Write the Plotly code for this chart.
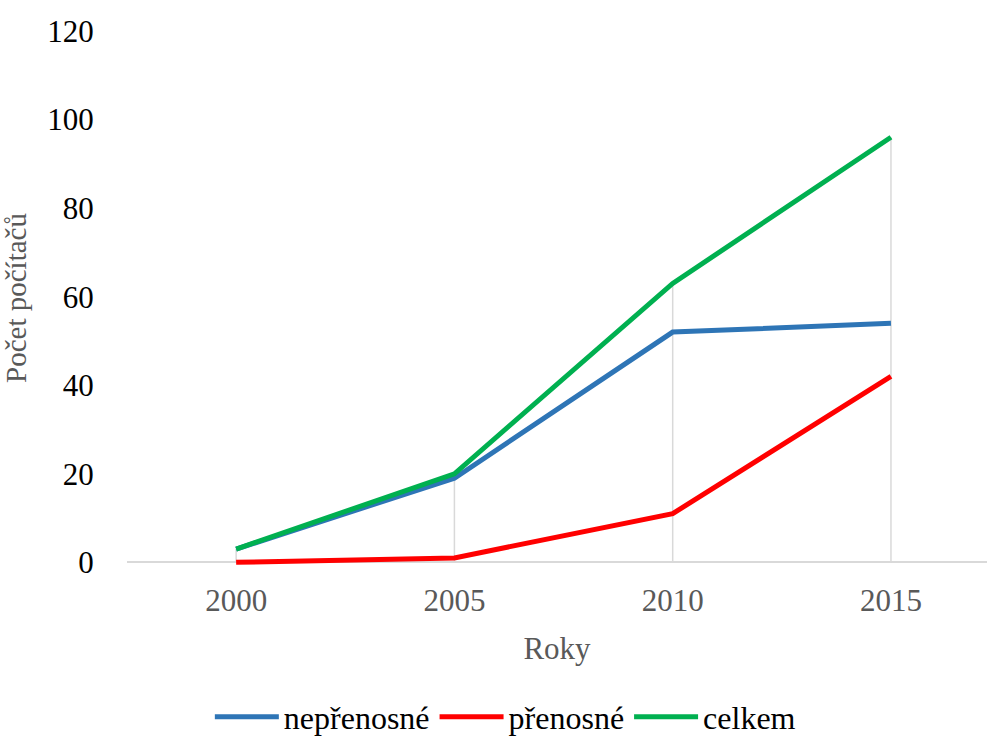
import plotly.graph_objects as go

roky = ["2000", "2005", "2010", "2015"]
neprenosne = [3, 19, 52, 54]
prenosne = [0, 1, 11, 42]
celkem = [3, 20, 63, 96]

series = [
    ("nepřenosné", neprenosne, "#2E75B6"),
    ("přenosné", prenosne, "#FF0000"),
    ("celkem", celkem, "#00B050"),
]

FONT = "Liberation Serif, Times New Roman, serif"

fig = go.Figure()

# drop lines from the highest point of each category down to the axis
dx, dy = [], []
for i, r in enumerate(roky):
    top = max(neprenosne[i], prenosne[i], celkem[i])
    dx += [r, r, None]
    dy += [0, top, None]
fig.add_trace(go.Scatter(x=dx, y=dy, mode="lines", showlegend=False,
                         line=dict(color="#d9d9d9", width=1.5), hoverinfo="skip"))

for name, vals, col in series:
    fig.add_trace(go.Scatter(x=roky, y=vals, mode="lines", name=name,
                             line=dict(color=col, width=5)))

fig.update_layout(
    width=987, height=736,
    margin=dict(l=127, r=0, t=31, b=171, autoexpand=False),
    paper_bgcolor="white", plot_bgcolor="white",
    font=dict(family=FONT, size=31, color="black"),
    showlegend=True,
    legend=dict(orientation="h", xref="container", x=0.512, xanchor="center",
                yref="container", y=0.026, yanchor="middle",
                font=dict(family=FONT, size=32, color="black"), itemwidth=64,
                traceorder="normal"),
    xaxis=dict(type="category", range=[-0.5, 3.44], showgrid=False, showline=False,
               automargin=False,
               zeroline=False, ticks="outside", ticklen=8, tickcolor="rgba(0,0,0,0)",
               tickfont=dict(family=FONT, size=31, color="#595959"),
               title=dict(text="Roky", font=dict(family=FONT, size=31, color="#595959"),
                          standoff=20)),
    yaxis=dict(range=[-0.6, 120], tickvals=[0, 20, 40, 60, 80, 100, 120],
               automargin=False,
               showgrid=False, showline=False, zeroline=True, zerolinecolor="#d9d9d9",
               zerolinewidth=1.5, ticks="outside", ticklen=26,
               tickcolor="rgba(0,0,0,0)",
               tickfont=dict(family=FONT, size=31, color="black"),
               title=dict(text="Počet počítačů",
                          font=dict(family=FONT, size=29, color="#595959"), standoff=12)),
)

fig.write_html("out.html")
